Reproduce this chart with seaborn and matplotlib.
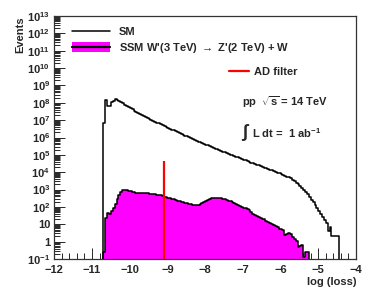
import numpy as np
import pandas as pd
import matplotlib
matplotlib.use("Agg")
import matplotlib.pyplot as plt
import seaborn as sns
from matplotlib.lines import Line2D
from matplotlib.patches import Patch
from matplotlib.legend_handler import HandlerTuple
from matplotlib.ticker import FixedLocator, FixedFormatter, LogLocator, MultipleLocator, NullFormatter

# histogram binning (log loss)
bin_lo, bin_hi, n_bins = -12.0, -4.0, 160
bin_width = 0.05

# SM background: log10(events) per bin, first bin starts at -10.70
sm_start = -10.70
sm_log = [
    6.82, 8.15, 7.80, 7.82, 8.04, 8.12, 8.20, 8.18, 8.12, 8.05,
    7.98, 7.90, 7.83, 7.76, 7.69, 7.62, 7.55, 7.48, 7.42, 7.36,
    7.30, 7.24, 7.18, 7.12, 7.07, 7.02, 6.96, 6.91, 6.86, 6.81,
    6.76, 6.71, 6.66, 6.61, 6.56, 6.51, 6.46, 6.41, 6.36, 6.31,
    6.26, 6.21, 6.16, 6.11, 6.06, 6.01, 5.96, 5.92, 5.87, 5.82,
    5.77, 5.73, 5.68, 5.63, 5.59, 5.54, 5.50, 5.45, 5.41, 5.36,
    5.32, 5.28, 5.24, 5.19, 5.15, 5.11, 5.07, 5.02, 4.98, 4.94,
    4.90, 4.85, 4.81, 4.77, 4.73, 4.68, 4.64, 4.60, 4.56, 4.51,
    4.47, 4.43, 4.39, 4.35, 4.31, 4.27, 4.23, 4.19, 4.15, 4.11,
    4.07, 4.02, 3.98, 3.94, 3.89, 3.85, 3.80, 3.75, 3.70, 3.64,
    3.57, 3.49, 3.40, 3.31, 3.21, 3.10, 2.98, 2.86, 2.72, 2.56,
    2.42, 2.27, 2.10, 1.92, 1.76, 1.60, 1.42, 1.25, 1.05, 0.62,
    0.82, 0.32, 0.30, 0.30, 0.30,
]

# SSM W' signal: log10(events) per bin, first bin starts at -10.70
sig_start = -10.70
sig_log = [
    -0.60, 1.35, 1.65, 1.62, 1.75, 1.95, 2.15, 2.45, 2.70, 2.88,
    2.95, 2.96, 2.95, 2.92, 2.90, 2.88, 2.85, 2.82, 2.80, 2.80,
    2.81, 2.80, 2.78, 2.78, 2.77, 2.75, 2.73, 2.72, 2.70, 2.68,
    2.66, 2.63, 2.60, 2.57, 2.54, 2.51, 2.48, 2.44, 2.40, 2.37,
    2.34, 2.30, 2.27, 2.24, 2.20, 2.17, 2.15, 2.13, 2.12, 2.11,
    2.14, 2.19, 2.25, 2.31, 2.37, 2.42, 2.46, 2.49, 2.51, 2.52,
    2.52, 2.51, 2.49, 2.47, 2.44, 2.40, 2.36, 2.32, 2.28, 2.23,
    2.18, 2.12, 2.07, 2.01, 1.96, 1.92, 1.86, 1.82, 1.70, 1.62,
    1.52, 1.45, 1.40, 1.36, 1.33, 1.28, 1.20, 1.12, 1.08, 1.02,
    0.95, 0.88, 0.82, 0.75, 0.72, 0.68, 0.38, 0.45, 0.50, 0.42,
    0.25, 0.15, 0.05, -0.30, -0.25, -0.20, -0.90, -0.58, -0.58,
]

# AD filter threshold line
ad_cut = -9.1
ad_top = 4.6e4

ytick_vals = [10.0 ** p for p in range(-1, 14)]
ytick_labels = ["$10^{-1}$", "1", "10"] + ["$10^{%d}$" % p for p in range(2, 14)]

edges = np.linspace(bin_lo, bin_hi, n_bins + 1).tolist()
sm_df = pd.DataFrame({
    "loss": sm_start + bin_width * (np.arange(len(sm_log)) + 0.5),
    "events": 10.0 ** np.array(sm_log),
})
sig_df = pd.DataFrame({
    "loss": sig_start + bin_width * (np.arange(len(sig_log)) + 0.5),
    "events": 10.0 ** np.array(sig_log),
})

sns.set_theme(style="ticks")
plt.rcParams["font.family"] = ["Liberation Sans", "DejaVu Sans"]
plt.rcParams["font.weight"] = "bold"
plt.rcParams["mathtext.fontset"] = "custom"
plt.rcParams["mathtext.rm"] = "Liberation Sans:bold"
plt.rcParams["mathtext.it"] = "Liberation Sans:bold"
plt.rcParams["mathtext.bf"] = "Liberation Sans:bold"
plt.rcParams["mathtext.default"] = "rm"

fig = plt.figure(figsize=(3.74, 2.97), dpi=100)
ax = fig.add_axes([0.1452, 0.1279, 0.8067, 0.8182])

sns.histplot(data=sm_df, x="loss", weights="events", bins=edges, element="step",
             fill=False, color="black", linewidth=1.1, ax=ax)
sns.histplot(data=sig_df, x="loss", weights="events", bins=edges, element="step",
             fill=True, alpha=1, color="#ff00ff", linewidth=0, ax=ax)
sns.histplot(data=sig_df, x="loss", weights="events", bins=edges, element="step",
             fill=False, color="black", linewidth=1.1, ax=ax)
ax.vlines(ad_cut, 0.1, ad_top, color="#ff0000", linewidth=1.6, zorder=5)

ax.set_yscale("log")
ax.set_xlim(bin_lo, bin_hi)
ax.set_ylim(0.1, 1e13)

ax.xaxis.set_major_locator(MultipleLocator(1))
ax.xaxis.set_minor_locator(MultipleLocator(0.2))
ax.yaxis.set_major_locator(FixedLocator(ytick_vals))
ax.yaxis.set_major_formatter(FixedFormatter(ytick_labels))
ax.yaxis.set_minor_locator(LogLocator(base=10, subs=np.arange(2, 10), numticks=30))
ax.yaxis.set_minor_formatter(NullFormatter())
ax.tick_params(which="both", direction="in", top=False, right=False, labelsize=8, width=0.7)
ax.tick_params(which="major", length=8)
ax.tick_params(which="minor", length=4)
ax.tick_params(axis="x", pad=4)
ax.tick_params(axis="y", pad=3)
for s in ax.spines.values():
    s.set_linewidth(0.9)
    s.set_color("#333333")
    s.set_visible(True)

ax.set_xlabel("log (loss)", loc="right", fontsize=8, fontweight="bold", labelpad=2)
ax.set_ylabel("Events", loc="top", fontsize=8, fontweight="bold", labelpad=1)

h_sm = Line2D([], [], color="black", linewidth=1.1)
h_sig = (Patch(facecolor="#ff00ff", edgecolor="none"), Line2D([], [], color="black", linewidth=1.6))
leg1 = ax.legend([h_sm, h_sig], ["SM", r"SSM W'(3 TeV) $\rightarrow$ Z'(2 TeV) + W"],
                 handler_map={tuple: HandlerTuple(ndivide=1, pad=0)},
                 loc="upper left", bbox_to_anchor=(0.045, 0.975), frameon=False,
                 fontsize=8, handlelength=3.4, handleheight=1.0, handletextpad=0.8,
                 labelspacing=0.35, borderaxespad=0)
ax.add_artist(leg1)
h_ad = Line2D([], [], color="#ff0000", linewidth=1.6)
ax.legend([h_ad], ["AD filter"], loc="upper left", bbox_to_anchor=(0.565, 0.81),
          frameon=False, fontsize=8, handlelength=1.8, handletextpad=0.45, borderaxespad=0)

ax.text(0.621, 0.645, r"pp  $\sqrt{s}$ = 14 TeV", transform=ax.transAxes, fontsize=8,
        fontweight="bold", va="center", ha="left")
ax.text(0.618, 0.52, r"$\int$", transform=ax.transAxes, fontsize=13,
        va="center", ha="left")
ax.text(0.655, 0.52, r"L dt =  1 ab$^{-1}$", transform=ax.transAxes, fontsize=8,
        fontweight="bold", va="center", ha="left")

fig.savefig("out.png", dpi=100)
